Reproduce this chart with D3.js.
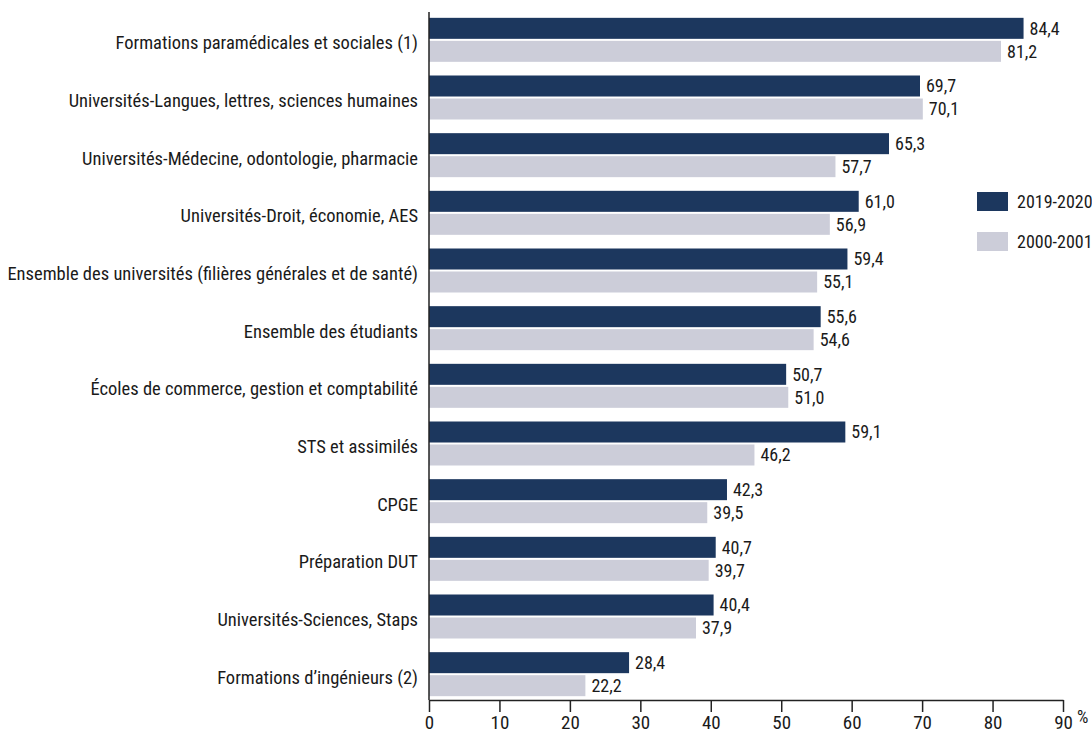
<!DOCTYPE html>
<html><head><meta charset="utf-8">
<script src="https://cdn.jsdelivr.net/npm/d3@7/dist/d3.min.js"></script>
<style>
body{margin:0;background:#fff;}
text{font-family:"Roboto Condensed","Liberation Sans Narrow","DejaVu Sans Condensed",Roboto,sans-serif;font-stretch:condensed;fill:#1a1a1a;}
</style></head>
<body><svg id="c" width="1092" height="734"></svg>
<script>
const categories = [
  "Formations paramédicales et sociales (1)",
  "Universités-Langues, lettres, sciences humaines",
  "Universités-Médecine, odontologie, pharmacie",
  "Universités-Droit, économie, AES",
  "Ensemble des universités (filières générales et de santé)",
  "Ensemble des étudiants",
  "Écoles de commerce, gestion et comptabilité",
  "STS et assimilés",
  "CPGE",
  "Préparation DUT",
  "Universités-Sciences, Staps",
  "Formations d’ingénieurs (2)"
];
const series2019 = [84.4, 69.7, 65.3, 61.0, 59.4, 55.6, 50.7, 59.1, 42.3, 40.7, 40.4, 28.4];
const series2000 = [81.2, 70.1, 57.7, 56.9, 55.1, 54.6, 51.0, 46.2, 39.5, 39.7, 37.9, 22.2];
const seriesNames = ["2019-2020", "2000-2001"];
const xTicks = [0,10,20,30,40,50,60,70,80,90];

const colors = {"2019-2020":"#1c375e","2000-2001":"#cccdd9"};
const svg = d3.select("#c");
const x = d3.scaleLinear().domain([0,90]).range([429,1063]);
const y = d3.scaleBand().domain(categories).range([11,703]);
const fmt = v => d3.format(".1f")(v).replace(".", ",");
const FS = 18;

const rows = categories.map((c,i)=>({c, vals:[series2019[i], series2000[i]]}));

const g = svg.append("g");
rows.forEach(r=>{
  const cy = y(r.c) + y.bandwidth()/2;
  r.vals.forEach((v,j)=>{
    const y0 = j===0 ? cy-22 : cy+1;
    g.append("rect").attr("x", x(0)).attr("y", y0).attr("width", x(v)-x(0)).attr("height", 21)
      .attr("fill", colors[seriesNames[j]]);
    g.append("text").attr("x", x(v)+6).attr("y", y0+10.5).attr("dy","0.35em")
      .attr("font-size", FS).text(fmt(v));
  });
  g.append("text").attr("x", 418).attr("y", cy+3).attr("dy","0.35em").attr("text-anchor","end")
    .attr("font-size", 18.5).text(r.c);
});

// y axis line
svg.append("line").attr("x1",429).attr("x2",429).attr("y1",12).attr("y2",700)
  .attr("stroke","#222").attr("stroke-width",1.5);

// x axis
const xa = svg.append("g").attr("transform","translate(0,700)")
  .call(d3.axisBottom(x).tickValues(xTicks).tickSize(12).tickSizeOuter(0).tickFormat(d=>d));
xa.attr("font-family",null).attr("font-size",null);
xa.select(".domain").attr("stroke","#222").attr("stroke-width",1.5);
xa.selectAll(".tick line").attr("stroke","#222").attr("stroke-width",1.5);
xa.selectAll(".tick text").style("font-size","19px").attr("fill","#1a1a1a").attr("y",16).attr("dy","0.71em");

svg.append("text").attr("x",1077).attr("y",723).style("font-size","18px").text("%");

// legend
seriesNames.forEach((s,i)=>{
  const ly = 192 + i*40;
  svg.append("rect").attr("x",977).attr("y",ly).attr("width",31).attr("height",19).attr("fill",colors[s]);
  svg.append("text").attr("x",1017).attr("y",ly+9.5).attr("dy","0.35em").attr("font-size",FS).text(s);
});
</script></body></html>
